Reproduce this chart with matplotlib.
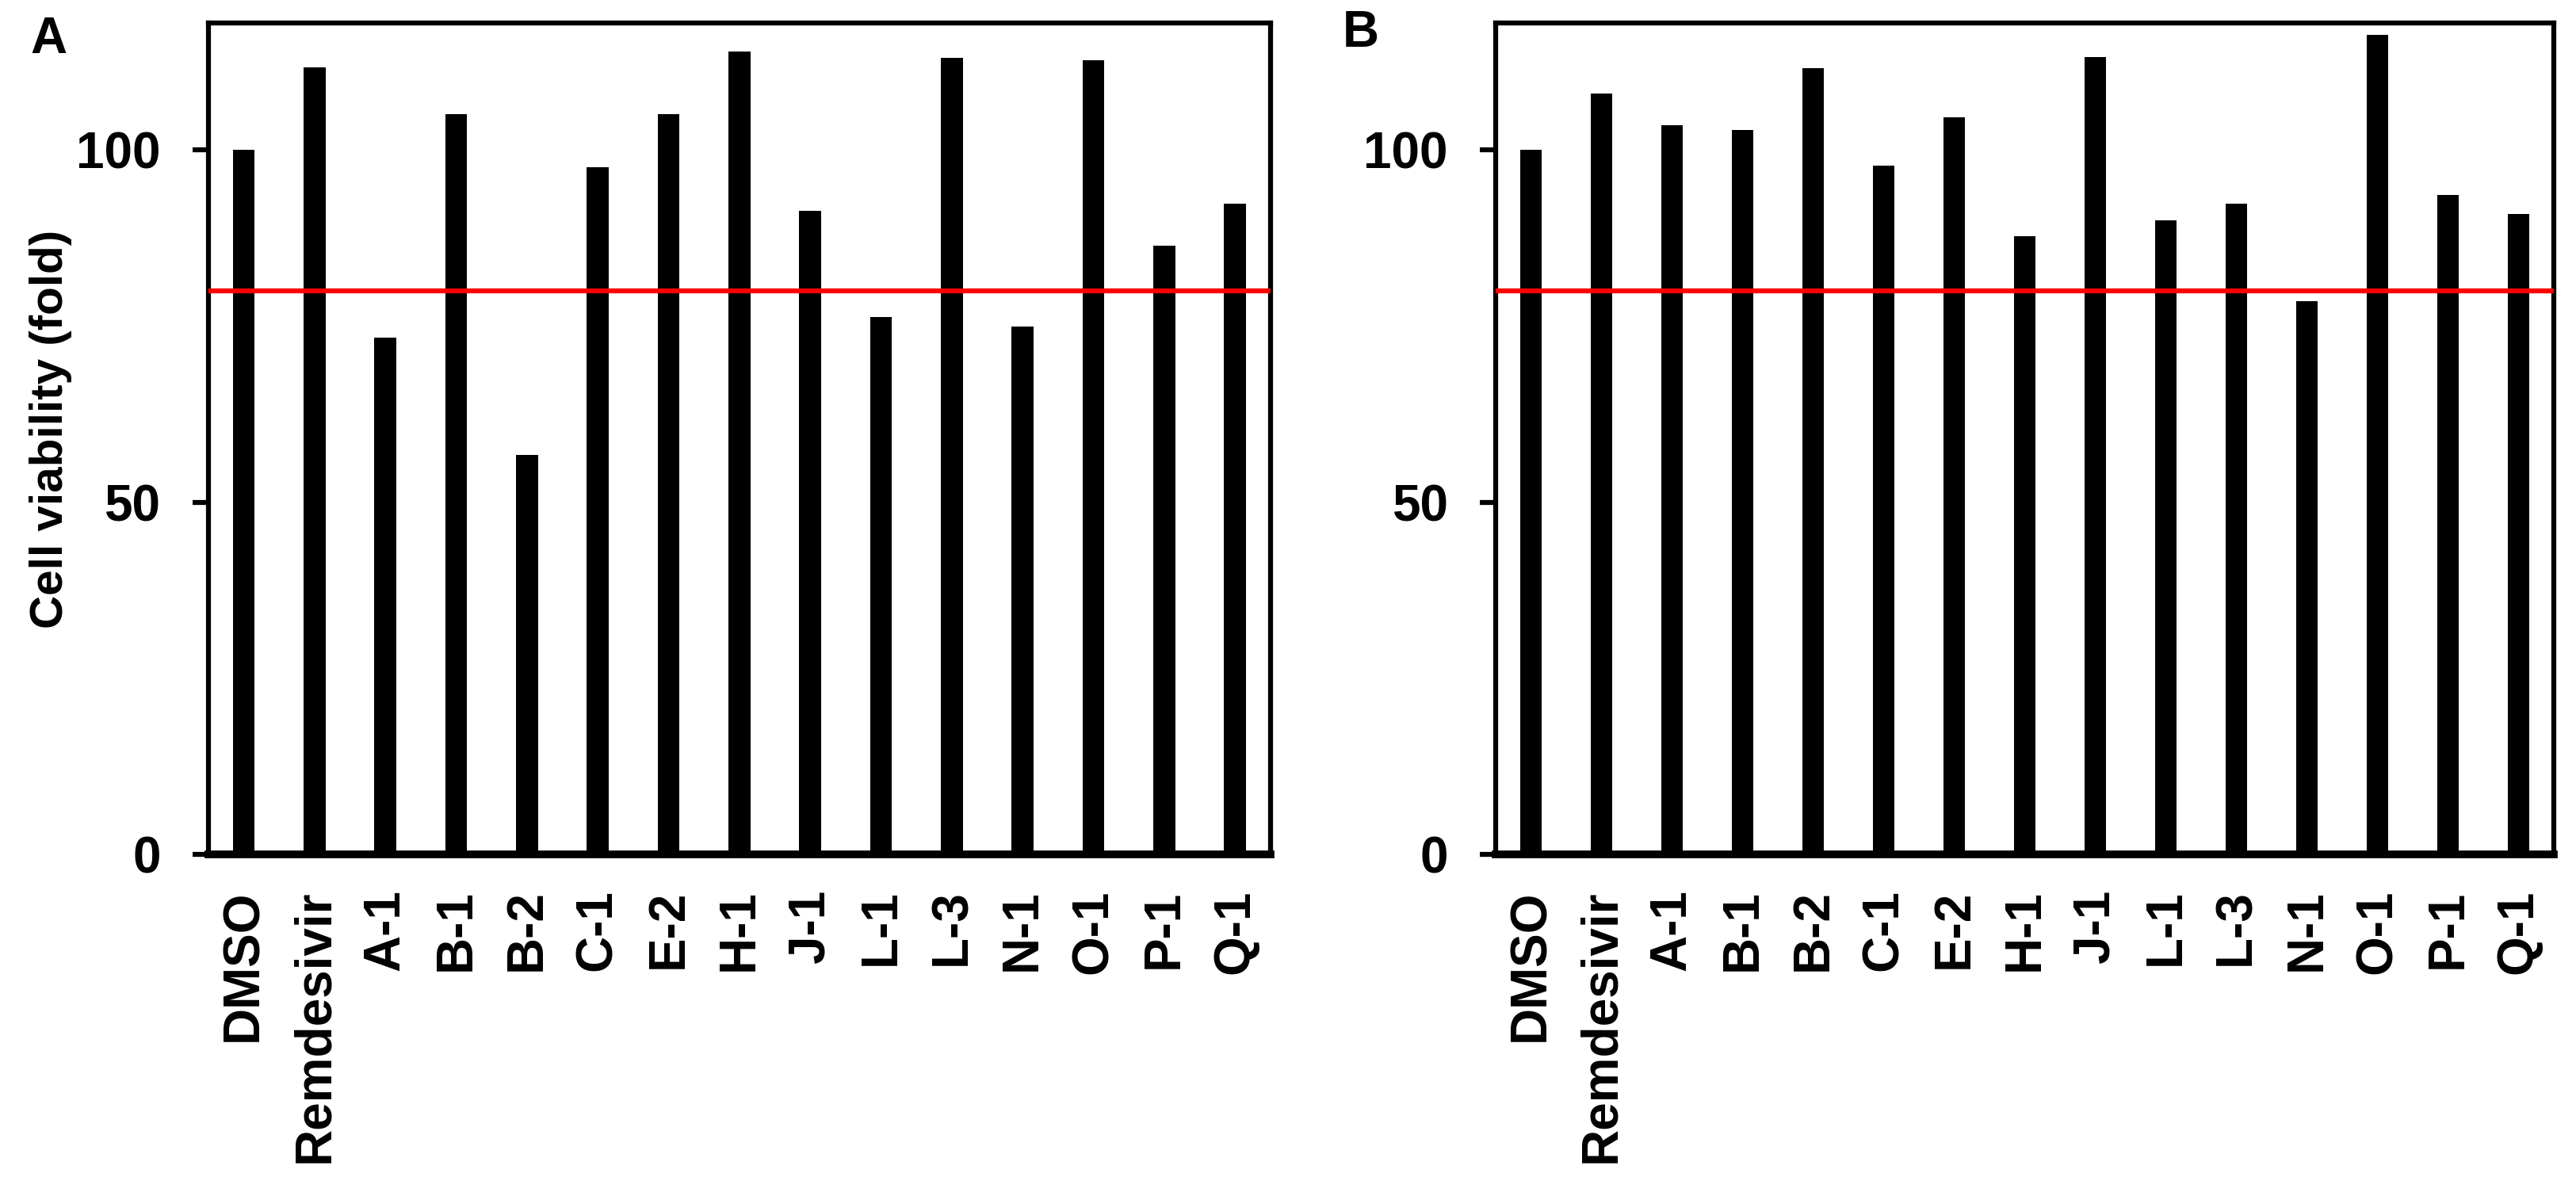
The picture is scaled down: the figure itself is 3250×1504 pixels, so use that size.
import matplotlib
matplotlib.use("Agg")
import matplotlib.pyplot as plt

plt.rcParams["font.family"] = ["Liberation Sans", "DejaVu Sans"]
plt.rcParams["font.weight"] = "bold"

compounds = ["DMSO", "Remdesivir", "A-1", "B-1", "B-2", "C-1", "E-2", "H-1",
             "J-1", "L-1", "L-3", "N-1", "O-1", "P-1", "Q-1"]
viability_a = [100, 111.7, 73.3, 105.1, 56.7, 97.5, 105.1, 113.9,
               91.3, 76.3, 113.1, 74.9, 112.7, 86.4, 92.4]
viability_b = [100, 108.0, 103.5, 102.8, 111.6, 97.7, 104.6, 87.7,
               113.2, 90.0, 92.4, 78.5, 116.3, 93.6, 90.9]
threshold = 80
y_ticks = [0, 50, 100]

fig = plt.figure(figsize=(32.5, 15.04), dpi=100)
ax_a = fig.add_axes([0.0809, 0.2832, 0.4123, 0.6975])
ax_b = fig.add_axes([0.5806, 0.2832, 0.4108, 0.6975])

for ax, vals in [(ax_a, viability_a), (ax_b, viability_b)]:
    x = range(len(compounds))
    ax.bar(x, vals, width=0.31, color="black", zorder=2)
    ax.axhline(threshold, color="#ff0000", lw=4.5, zorder=3)
    ax.set_xlim(-0.5, len(compounds) - 0.5)
    ax.set_ylim(0, 118)
    ax.set_yticks(y_ticks)
    ax.set_xticks(list(x))
    ax.set_xticklabels(compounds, rotation=90, fontsize=46, fontweight="bold")
    ax.tick_params(axis="y", length=14.5, width=4.5, pad=29, labelsize=46)
    ax.tick_params(axis="x", length=0, pad=32)
    for lbl in ax.get_yticklabels():
        lbl.set_fontweight("bold")
    for side in ["left", "right", "top"]:
        ax.spines[side].set_linewidth(4.5)
    ax.spines["bottom"].set_linewidth(7)

fig.text(0.0197, 0.640, "Cell viability (fold)", rotation=90, ha="center",
         va="center", fontsize=42, fontweight="bold")
fig.text(0.0188, 0.967, "A", ha="center", va="center", fontsize=46, fontweight="bold")
fig.text(0.5283, 0.972, "B", ha="center", va="center", fontsize=46, fontweight="bold")

fig.savefig("out.png", dpi=100, facecolor="white")
